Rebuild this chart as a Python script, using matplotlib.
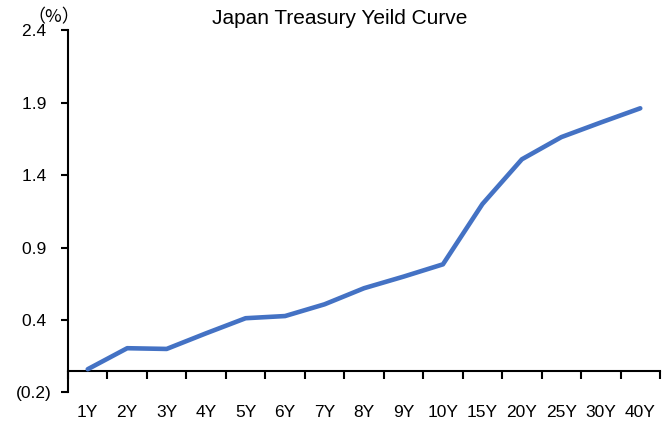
import matplotlib
matplotlib.use("Agg")
import matplotlib.pyplot as plt
import matplotlib.transforms as mtransforms

categories = ["1Y", "2Y", "3Y", "4Y", "5Y", "6Y", "7Y", "8Y", "9Y", "10Y", "15Y", "20Y", "25Y", "30Y", "40Y"]
yields = [0.01, 0.155, 0.15, 0.258, 0.362, 0.377, 0.458, 0.569, 0.649, 0.734, 1.150, 1.459, 1.612, 1.713, 1.811]
y_ticks = [-0.15, 0.35, 0.85, 1.35, 1.85, 2.35]
y_tick_labels = ["(0.2)", "0.4 ", "0.9 ", "1.4 ", "1.9 ", "2.4 "]
title = "Japan Treasury Yeild Curve"
unit = "（%）"

plt.rcParams['font.family'] = ['Liberation Sans', 'DejaVu Sans']

fig = plt.figure(figsize=(6.72, 4.25), dpi=100)
ax = fig.add_axes([68/672, 1 - 392.4/425, (660-68)/672, (392.4-30.2)/425])

x = list(range(len(categories)))
ax.plot(x, yields, color="#4472C4", linewidth=3.3, solid_capstyle="round", solid_joinstyle="round", zorder=3)

ax.set_xlim(-0.5, len(categories) - 0.5)
ax.set_ylim(y_ticks[0], y_ticks[-1])

for s in ["top", "right"]:
    ax.spines[s].set_visible(False)
ax.spines["bottom"].set_position(("data", 0))
ax.spines["bottom"].set_linewidth(1.5)
ax.spines["left"].set_linewidth(1.5)

ax.set_yticks(y_ticks)
ax.set_yticklabels(y_tick_labels, fontsize=12.5)
ax.tick_params(axis="y", direction="out", length=5, width=1.5, pad=7)

ax.set_xticks([i - 0.5 for i in range(len(categories) + 1)])
ax.set_xticklabels([])
ax.tick_params(axis="x", direction="out", length=6, width=1.5)

trans = mtransforms.blended_transform_factory(ax.transData, ax.transAxes)
for i, c in enumerate(categories):
    ax.text(i, -0.055, c, transform=trans, ha="center", va="center", fontsize=12.5)

fig.text(340/672, 1 - 18/425, title, ha="center", va="center", fontsize=15)
fig.text(54/672, 1 - 17/425, unit, ha="center", va="center", fontsize=13,
         family=['Noto Sans CJK JP', 'DejaVu Sans'])

fig.savefig("out.png", dpi=100)
